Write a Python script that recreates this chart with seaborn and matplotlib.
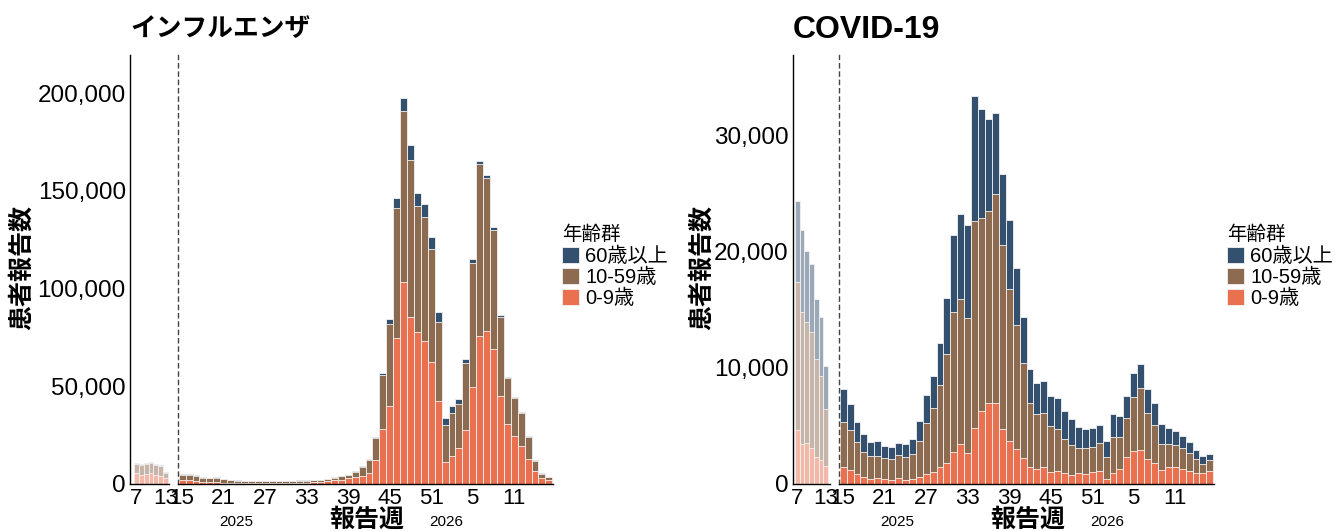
import numpy as np
import pandas as pd
import matplotlib
matplotlib.use("Agg")
import matplotlib.pyplot as plt
from matplotlib.patches import Patch
from matplotlib.ticker import FuncFormatter
import seaborn as sns

# ---------------- data ----------------
main_weeks = list(range(15, 53)) + list(range(1, 17))
main_years = [2025] * 38 + [2026] * 16
sub_weeks = list(range(7, 14))

flu_0_9 = [2000, 1900, 1500, 1000, 800, 900, 600, 500, 400, 350, 350, 350, 350, 350, 400, 450,
           500, 550, 650, 800, 1000, 1300, 1800, 2300, 2900, 3400, 4300, 5600, 12300, 28100, 39900,
           74900, 103500, 85300, 77600, 73200, 62400, 42500, 11100, 14300, 18600, 27600, 49800,
           75700, 78300, 69100, 45200, 30500, 24600, 19400, 12600, 6700, 3200, 2100]
flu_10_59 = [2800, 2750, 2500, 2300, 2050, 2300, 1850, 1500, 1350, 1200, 1200, 1100, 1100, 1000,
             1050, 1100, 1050, 1100, 1100, 1150, 1150, 1350, 1500, 1600, 1650, 2800, 4550, 6600,
             11100, 27700, 41800, 66500, 87300, 80400, 64600, 63500, 58000, 40500, 19100, 22200,
             22200, 34500, 63400, 87800, 78200, 60800, 40100, 23600, 19600, 17100, 11600, 5200,
             1900, 1300]
flu_60p = [500, 450, 400, 300, 250, 300, 250, 200, 150, 150, 150, 150, 150, 150, 150, 150, 150,
           150, 150, 150, 150, 150, 200, 200, 250, 300, 350, 600, 800, 1200, 2500, 4700, 6500,
           8000, 6500, 6400, 6100, 4800, 3400, 3600, 2500, 1700, 1700, 1700, 1700, 1700, 1100,
           800, 500, 500, 400, 400, 400, 400]

flu_sub_0_9 = [5400, 4700, 5000, 5500, 4800, 3900, 3300]
flu_sub_10_59 = [4900, 4900, 5100, 5300, 4900, 5250, 2300]
flu_sub_60p = [600, 500, 500, 500, 500, 450, 400]

cov_0_9 = [1430, 1200, 860, 570, 430, 490, 400, 340, 490, 370, 460, 630, 830, 1060, 1430, 1780,
           2780, 3440, 2640, 4790, 6300, 6940, 6990, 4700, 3670, 2980, 2270, 1490, 1270, 1430,
           1030, 1150, 920, 800, 970, 890, 1000, 1090, 460, 970, 1290, 2350, 2870, 2950, 2180,
           1830, 1230, 1460, 1460, 1290, 1120, 950, 920, 1120]
cov_10_59 = [3870, 3440, 2780, 2210, 1980, 1950, 1840, 1810, 1980, 1950, 2120, 3040, 4440, 5450,
             7080, 9370, 12040, 12500, 11660, 17830, 16550, 16540, 17980, 15850, 13100, 10670,
             8110, 5500, 4750, 4700, 3960, 3550, 2980, 2550, 2130, 2210, 2210, 2410, 1830, 3040,
             2720, 3330, 4580, 5330, 3950, 3220, 2240, 2010, 1890, 1810, 1570, 1200, 830, 940]
cov_60p = [2840, 2240, 1720, 1490, 1200, 1290, 1030, 1060, 1080, 1120, 1260, 1780, 2380, 2780,
           3590, 4820, 6570, 7250, 8000, 10750, 9400, 7880, 6910, 6110, 5910, 4950, 3960, 2930,
           2690, 2700, 2580, 2700, 2410, 2240, 1770, 1600, 1610, 1600, 1380, 2010, 1840, 1920,
           2070, 2040, 2010, 1940, 1660, 1350, 1180, 1000, 950, 770, 630, 550]

cov_sub_0_9 = [4640, 3440, 3500, 3070, 2350, 2060, 1550]
cov_sub_10_59 = [12760, 11380, 10460, 9970, 8370, 7230, 4870]
cov_sub_60p = [6970, 7020, 6110, 5910, 5190, 5100, 3730]

groups = ["60歳以上", "10-59歳", "0-9歳"]
col_60 = "#34506F"
col_10 = "#8C6B51"
col_0 = "#E97150"

main_ticks_weeks = [15, 21, 27, 33, 39, 45, 51, 5, 11]
sub_ticks_weeks = [7, 13]

# ---------------- style ----------------
sns.set_theme(style="white")
plt.rcParams["font.family"] = ["Liberation Sans", "Noto Sans CJK JP"]
plt.rcParams["axes.unicode_minus"] = False
plt.rcParams["text.color"] = "black"
plt.rcParams["xtick.color"] = "black"
plt.rcParams["ytick.color"] = "black"
plt.rcParams["xtick.labelcolor"] = "black"
plt.rcParams["ytick.labelcolor"] = "black"


def fade(c, a=0.5):
    rgb = np.array(matplotlib.colors.to_rgb(c))
    return tuple(rgb * a + (1 - a))


W, H = 1335, 531
fig = plt.figure(figsize=(W / 100, H / 100), dpi=100)


def ax_at(x0, x1, y0=55, y1=484):
    return fig.add_axes([x0 / W, 1 - y1 / H, (x1 - x0) / W, (y1 - y0) / H])


def stacked(ax, labels, a0, a10, a60, cols):
    df = pd.DataFrame({"label": labels,
                       "v0": np.array(a0),
                       "v10": np.array(a0) + np.array(a10),
                       "vall": np.array(a0) + np.array(a10) + np.array(a60)})
    for col, c in zip(["vall", "v10", "v0"], cols):
        sns.barplot(data=df, x="label", y=col, order=labels, color=c, saturation=1,
                    width=1.0, edgecolor="#f2f2f2", linewidth=0.6, errorbar=None, ax=ax)
    ax.set_xlabel("")
    ax.set_ylabel("")


def style_sub(ax, ymax, yticks, xlim):
    ax.set_ylim(0, ymax)
    ax.set_xlim(*xlim)
    ax.set_yticks(yticks)
    ax.yaxis.set_major_formatter(FuncFormatter(lambda v, p: f"{int(v):,}"))
    ax.set_xticks([sub_weeks.index(w) for w in sub_ticks_weeks])
    ax.set_xticklabels([str(w) for w in sub_ticks_weeks])
    for s in ["top", "right"]:
        ax.spines[s].set_visible(False)
    for s in ["left", "bottom"]:
        ax.spines[s].set_color("black")
        ax.spines[s].set_linewidth(1.0)
    ax.tick_params(axis="both", length=0, pad=3, colors="black")
    ax.tick_params(axis="y", labelsize=17.5)
    ax.tick_params(axis="x", labelsize=16)


def style_main(ax, ymax):
    ax.set_ylim(0, ymax)
    ax.set_xlim(-0.6, len(main_weeks) - 0.4)
    ax.set_yticks([])
    idx = []
    for w in main_ticks_weeks:
        yr = 2025 if w >= 15 else 2026
        idx.append([i for i in range(len(main_weeks))
                    if main_weeks[i] == w and main_years[i] == yr][0])
    ax.set_xticks(idx)
    ax.set_xticklabels([str(w) for w in main_ticks_weeks])
    for s in ["top", "right"]:
        ax.spines[s].set_visible(False)
    ax.spines["bottom"].set_color("black")
    ax.spines["bottom"].set_linewidth(1.0)
    ax.spines["left"].set_color("#444444")
    ax.spines["left"].set_linestyle((0, (3, 3)))
    ax.spines["left"].set_linewidth(1.0)
    ax.tick_params(axis="both", length=0, pad=3, colors="black")
    ax.tick_params(axis="x", labelsize=16)
    ax.text(7.8, -0.088, "2025", transform=ax.get_xaxis_transform(), ha="center",
            va="center", fontsize=11)
    ax.text(38.1, -0.088, "2026", transform=ax.get_xaxis_transform(), ha="center",
            va="center", fontsize=11)


main_labels = [f"{y}-{w:02d}" for y, w in zip(main_years, main_weeks)]
sub_labels = [f"old-{w:02d}" for w in sub_weeks]
main_cols = [col_60, col_10, col_0]
sub_cols = [fade(col_60), fade(col_10), fade(col_0)]

# ---- influenza ----
ax1s = ax_at(130, 169)
stacked(ax1s, sub_labels, flu_sub_0_9, flu_sub_10_59, flu_sub_60p, sub_cols)
style_sub(ax1s, 219500, [0, 50000, 100000, 150000, 200000], (-1.3, 6.7))
ax1m = ax_at(178, 553)
stacked(ax1m, main_labels, flu_0_9, flu_10_59, flu_60p, main_cols)
style_main(ax1m, 219500)

# ---- covid ----
ax2s = ax_at(793, 830)
stacked(ax2s, sub_labels, cov_sub_0_9, cov_sub_10_59, cov_sub_60p, sub_cols)
style_sub(ax2s, 36900, [0, 10000, 20000, 30000], (-0.92, 6.87))
ax2m = ax_at(839, 1214)
stacked(ax2m, main_labels, cov_0_9, cov_10_59, cov_60p, main_cols)
style_main(ax2m, 36900)

# ---- texts ----
fig.text(130 / W, 1 - 29 / H, "インフルエンザ", fontsize=18.5, fontweight="bold",
         ha="left", va="center", family=["Noto Sans CJK JP"])
fig.text(793 / W, 1 - 30 / H, "COVID-19", fontsize=23, fontweight="bold",
         ha="left", va="center")
for xc in (367, 1028):
    fig.text(xc / W, 1 - 520 / H, "報告週", fontsize=18, fontweight="bold",
             ha="center", va="center", family=["Noto Sans CJK JP"])
for xc in (22, 702):
    fig.text(xc / W, 1 - 268 / H, "患者報告数", fontsize=18, fontweight="bold",
             ha="center", va="center", rotation=90, family=["Noto Sans CJK JP"])

handles = [Patch(facecolor=c, edgecolor="#f2f2f2", linewidth=0.6) for c in main_cols]
for lx in (562, 1227):
    leg = fig.legend(handles, groups, loc="upper left",
                     bbox_to_anchor=(lx / W, 1 - 226 / H), frameon=False,
                     title="年齢群", alignment="left", fontsize=14.5, title_fontsize=14,
                     handlelength=0.85, handleheight=0.85, handletextpad=0.3,
                     labelspacing=0.1, borderpad=0, borderaxespad=0)

fig.savefig("out.png", dpi=100)
